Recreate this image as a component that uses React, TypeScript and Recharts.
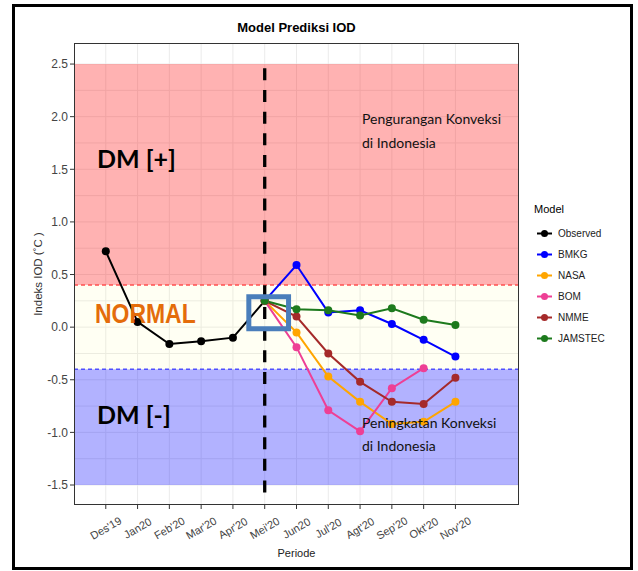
import React from 'react'
import {
  ComposedChart, Line, XAxis, YAxis, CartesianGrid, ReferenceArea, ReferenceLine,
} from 'recharts'

// periode (Des'19 .. Nov'20)
const monthLabels = ["Des'19", 'Jan20', "Feb'20", "Mar'20", "Apr'20", "Mei'20", 'Jun20', "Jul'20", "Agt'20", "Sep'20", "Okt'20", "Nov'20"]
const monthIndex = [1, 2, 3, 4, 5, 6, 7, 8, 9, 10, 11, 12]

const observed = [0.72, 0.05, -0.16, -0.135, -0.1, 0.25, null, null, null, null, null, null]
const bmkg = [null, null, null, null, null, 0.25, 0.59, 0.14, 0.16, 0.03, -0.12, -0.28]
const nasa = [null, null, null, null, null, 0.25, -0.05, -0.47, -0.71, -0.92, -0.9, -0.71]
const bom = [null, null, null, null, null, 0.25, -0.19, -0.79, -0.99, -0.58, -0.39, null]
const nmme = [null, null, null, null, null, 0.25, 0.1, -0.25, -0.52, -0.71, -0.73, -0.48]
const jamstec = [null, null, null, null, null, 0.25, 0.17, 0.16, 0.11, 0.18, 0.07, 0.02]

const yTicks = [-1.5, -1, -0.5, 0, 0.5, 1, 1.5, 2, 2.5]
const yMinor = [-1.5, -1.25, -1, -0.75, -0.5, -0.25, 0, 0.25, 0.5, 0.75, 1, 1.25, 1.5, 1.75, 2, 2.25, 2.5]

const series = [
  { key: 'observed', name: 'Observed', color: '#000000' },
  { key: 'bmkg', name: 'BMKG', color: '#0000FF' },
  { key: 'nasa', name: 'NASA', color: '#FFA500' },
  { key: 'bom', name: 'BOM', color: '#EE3F95' },
  { key: 'nmme', name: 'NMME', color: '#A52A2A' },
  { key: 'jamstec', name: 'JAMSTEC', color: '#1D7A1D' },
]

const data = monthIndex.map((x, i) => ({
  x,
  observed: observed[i],
  bmkg: bmkg[i],
  nasa: nasa[i],
  bom: bom[i],
  nmme: nmme[i],
  jamstec: jamstec[i],
}))

const axisFont = "'Liberation Sans Narrow', 'Liberation Sans', Arial, sans-serif"
const noteFont = "Lato, 'Open Sans', sans-serif"

const XTick = ({ x, y, payload }: any) => {
  const cy = y + 17
  return (
    <text
      x={x}
      y={cy}
      textAnchor="middle"
      dominantBaseline="central"
      transform={`rotate(-30 ${x} ${cy})`}
      fontFamily={axisFont}
      fontSize={11}
      fill="#444"
    >
      {monthLabels[payload.value - 1]}
    </text>
  )
}

const abs = (extra: React.CSSProperties): React.CSSProperties => ({ position: 'absolute', whiteSpace: 'nowrap', ...extra })

export default function App() {
  return (
    <div style={{ position: 'absolute', left: 0, top: 0, width: 638, height: 571, background: '#fff', overflow: 'hidden' }}>
      <ComposedChart
        width={638}
        height={571}
        data={data}
        margin={{ top: 43, right: 119, bottom: 16, left: 44 }}
      >
        <CartesianGrid
          stroke="#EBEBEB"
          horizontalValues={yMinor}
          verticalValues={monthIndex}
        />
        <ReferenceArea x1={0} x2={14} y1={0.4} y2={2.5} fill="#FF0000" fillOpacity={0.3} stroke="none" />
        <ReferenceArea x1={0} x2={14} y1={-0.4} y2={0.4} fill="#FFFF66" fillOpacity={0.08} stroke="none" />
        <ReferenceArea x1={0} x2={14} y1={-1.5} y2={-0.4} fill="#0000FF" fillOpacity={0.3} stroke="none" />
        <ReferenceLine y={0.4} stroke="#FF5050" strokeWidth={1.5} strokeDasharray="4 3" />
        <ReferenceLine y={-0.4} stroke="#5050FF" strokeWidth={1.5} strokeDasharray="4 3" />
        <ReferenceLine
          segment={[{ x: 6, y: 2.46 }, { x: 6, y: -1.66 }]}
          stroke="#000"
          strokeWidth={3.3}
          strokeDasharray="12 9.7"
        />
        <XAxis
          dataKey="x"
          type="number"
          domain={[0, 14]}
          ticks={monthIndex}
          interval={0}
          height={50}
          tick={<XTick />}
          tickSize={4}
          tickMargin={2}
          axisLine={false}
          tickLine={{ stroke: '#333' }}
          allowDataOverflow
        />
        <YAxis
          type="number"
          domain={[-1.69, 2.7]}
          ticks={yTicks}
          width={30}
          tickFormatter={(v: number) => v.toFixed(1)}
          tick={{ fontFamily: axisFont, fontSize: 12, fill: '#444' }}
          tickSize={4}
          tickMargin={2}
          axisLine={false}
          tickLine={{ stroke: '#333' }}
          allowDataOverflow
        />
        {series.map((s) => (
          <Line
            key={s.key}
            type="linear"
            dataKey={s.key}
            name={s.name}
            stroke={s.color}
            strokeWidth={2}
            dot={{ r: 4, fill: s.color, stroke: s.color, strokeWidth: 0 }}
            activeDot={false}
            connectNulls={false}
            isAnimationActive={false}
          />
        ))}
        <ReferenceArea
          x1={5.5}
          x2={6.75}
          y1={-0.015}
          y2={0.29}
          fill="none"
          stroke="#4A7EBB"
          strokeWidth={5}
          zIndex={1000}
        />
      </ComposedChart>

      {/* panel border */}
      <div style={abs({ left: 74, top: 43, width: 445, height: 462, border: '1px solid #333', boxSizing: 'border-box', pointerEvents: 'none' })} />

      {/* outer frame */}
      <div style={abs({ left: 12, top: 4, width: 621, height: 566, border: '3.5px solid #000', boxSizing: 'border-box' })} />

      <div style={abs({ left: 74, width: 445, top: 20, textAlign: 'center', fontFamily: axisFont, fontWeight: 'bold', fontSize: 13, color: '#000' })}>
        Model Prediksi IOD
      </div>
      <div style={abs({ left: 74, width: 445, top: 547, textAlign: 'center', fontFamily: axisFont, fontSize: 11, color: '#222' })}>
        Periode
      </div>
      <div style={abs({ left: 38, top: 274, transform: 'translate(-50%, -50%) rotate(-90deg)', fontFamily: axisFont, fontSize: 11.5, color: '#333' })}>
        Indeks IOD (˚C )
      </div>

      {/* annotations */}
      <div style={abs({ left: 97, top: 141, fontFamily: noteFont, fontWeight: 'bold', fontSize: 25, lineHeight: '34px', color: '#000' })}>DM [+]</div>
      <div style={abs({ left: 95, top: 297, fontFamily: axisFont, fontWeight: 'bold', fontSize: 27, lineHeight: '34px', color: '#E46C0A', transform: 'scaleX(0.85)', transformOrigin: 'left center' })}>NORMAL</div>
      <div style={abs({ left: 97, top: 397, fontFamily: noteFont, fontWeight: 'bold', fontSize: 25, lineHeight: '34px', color: '#000' })}>DM [-]</div>
      <div style={abs({ left: 362, top: 107, fontFamily: noteFont, fontSize: 14, lineHeight: '24px', color: '#111' })}>
        Pengurangan Konveksi<br />di Indonesia
      </div>
      <div style={abs({ left: 362, top: 411, fontFamily: noteFont, fontSize: 14, lineHeight: '23px', color: '#111' })}>
        Peningkatan Konveksi<br />di Indonesia
      </div>

      {/* legend */}
      <div style={abs({ left: 534, top: 203, fontFamily: axisFont, fontSize: 11, color: '#000' })}>Model</div>
      {series.map((s, i) => (
        <div key={s.key} style={abs({ left: 536, top: 225 + i * 20.9, height: 17, display: 'flex', alignItems: 'center', fontFamily: axisFont, fontSize: 10, color: '#222' })}>
          <svg width={17} height={17} style={{ marginRight: 5 }}>
            <line x1={1} y1={8.5} x2={16} y2={8.5} stroke={s.color} strokeWidth={2} />
            <circle cx={8.5} cy={8.5} r={3.5} fill={s.color} />
          </svg>
          {s.name}
        </div>
      ))}
    </div>
  )
}
